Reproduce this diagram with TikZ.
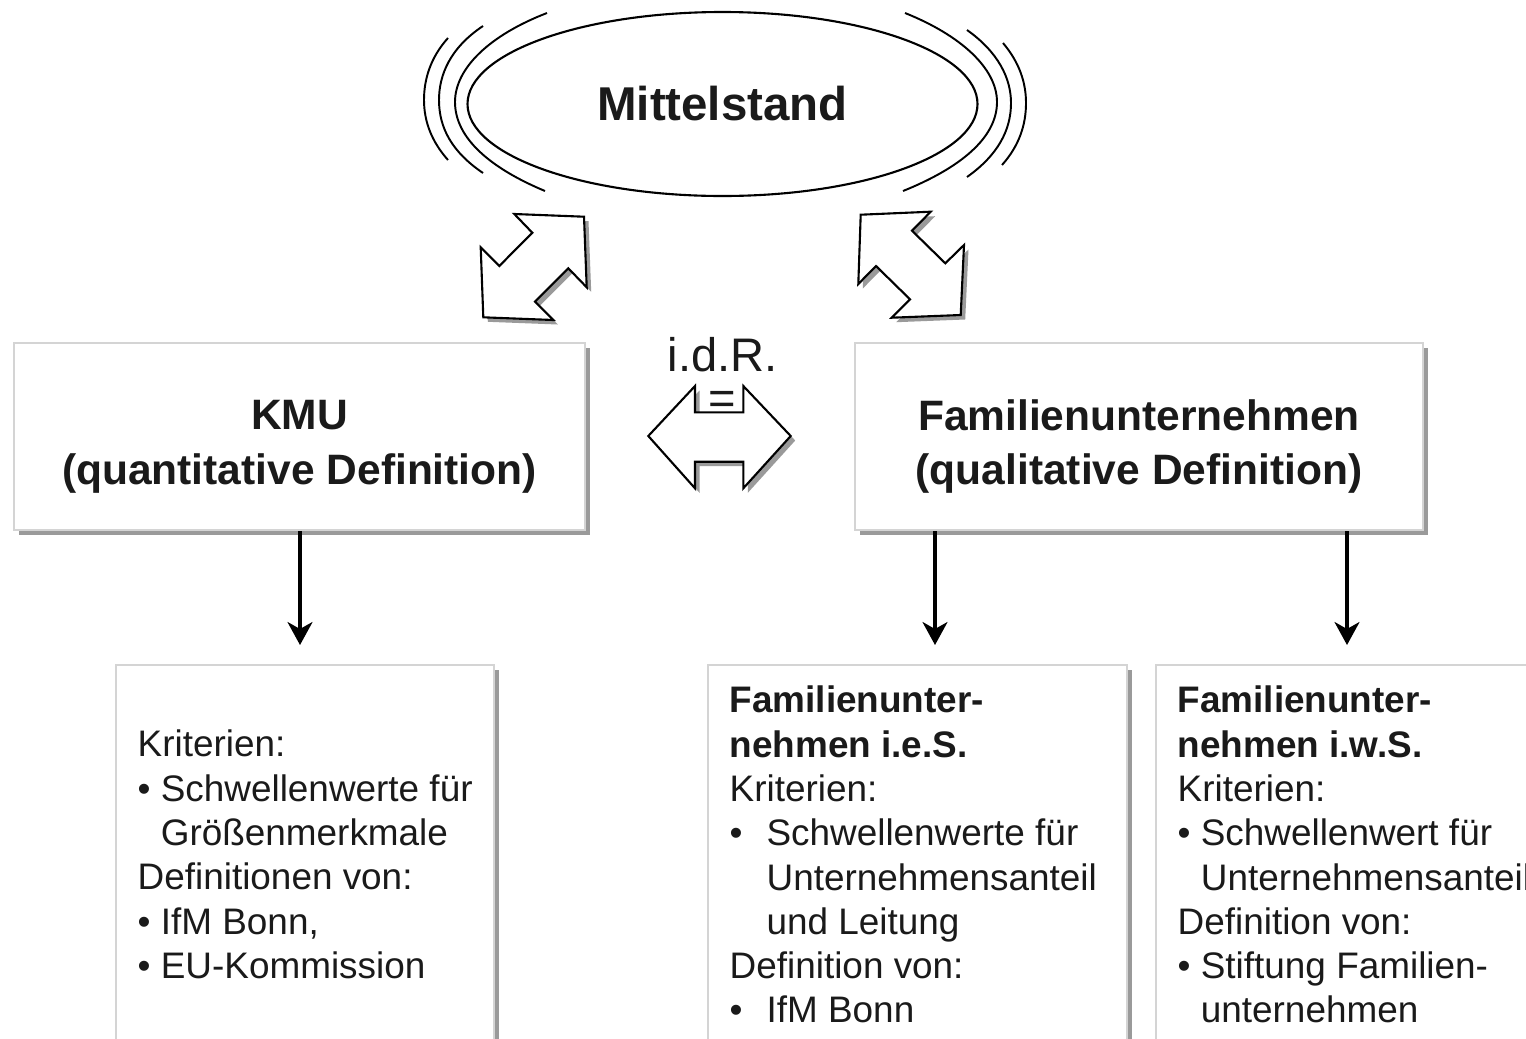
\documentclass[tikz,border=0pt]{standalone}
\usepackage{fontspec}
\setmainfont{Liberation Sans}
\usepackage{xcolor}
\usetikzlibrary{shapes.geometric, arrows.meta, positioning, calc, shadows}
\definecolor{rahmengrau}{HTML}{D4D4D4}
\definecolor{schattengrau}{HTML}{9A9A9A}
\definecolor{tinte}{HTML}{1A1A1A}

\begin{document}
\begin{tikzpicture}[x=0.1mm, y=-0.1mm,
  schatten/.style={drop shadow={shadow xshift=0.45mm, shadow yshift=-0.45mm, fill=schattengrau, opacity=1}},
  kasten/.style={draw=rahmengrau, line width=0.6pt, fill=white, schatten, inner sep=0pt},
  blockpfeil/.style={draw=black, line width=0.6pt, fill=white, line join=miter, schatten},
  welle/.style={line width=0.55pt},
  pfeil/.style={-{Stealth[length=2.3mm, width=2.5mm, inset=0.7mm]}, line width=0.9pt},
  titel/.style={font=\fontsize{12.1}{15.6}\selectfont\bfseries, align=center, text=tinte, inner sep=0pt},
  liste/.style={font=\fontsize{10.5}{12.6}\selectfont, align=left, text=tinte, inner sep=0pt, anchor=north west}
]
  \clip (0,0) rectangle (1526,1038);
  \fill[white] (0,0) rectangle (1526,1038);

  % Mittelstand oval with swirl lines
  \node[ellipse, draw, line width=0.6pt, minimum width=51mm, minimum height=18.4mm, font=\fontsize{13.5}{13.5}\selectfont\bfseries, text=tinte] (mittel) at (722.5,104) {Mittelstand};
  \draw[welle] (547,13) .. controls (490,35) and (455,68) .. (455,102) .. controls (455,138) and (490,168) .. (545,191);
  \draw[welle] (483,26) .. controls (450,48) and (439,75) .. (439,100) .. controls (439,128) and (452,152) .. (483,173);
  \draw[welle] (448,38) .. controls (430,58) and (424,80) .. (424,100) .. controls (424,122) and (432,142) .. (448,160);
  \draw[welle] (905,13) .. controls (960,35) and (997,68) .. (997,102) .. controls (997,138) and (960,168) .. (903,191);
  \draw[welle] (967,30) .. controls (998,52) and (1011,78) .. (1011,103) .. controls (1011,130) and (998,155) .. (967,177);
  \draw[welle] (1003,43) .. controls (1019,62) and (1026,82) .. (1026,103) .. controls (1026,125) and (1019,146) .. (1002,165);

  % Double arrows below the oval
  \draw[blockpfeil] (514.3,214) -- (584,216.7) -- (586.7,287.3) -- (568.3,268.3) -- (535,301.7) -- (553.3,320)
    -- (483.3,317.3) -- (480.7,247.3) -- (499.3,266) -- (532.3,232.7) -- cycle;
  \draw[blockpfeil] (860.7,214.7) -- (930.7,211.7) -- (912,230.7) -- (945.3,263.3) -- (964,245) -- (960.7,315)
    -- (891.7,317.7) -- (910,299.3) -- (876,266) -- (858.3,284) -- cycle;

  % Upper boxes
  \node[kasten, minimum width=57.1mm, minimum height=18.7mm] (kmu) at (299.5,436.5) {};
  \node[titel] (kmutext) at ($(kmu.center)+(0,10)$) {KMU\\(quantitative Definition)};
  \node[kasten, minimum width=56.8mm, minimum height=18.7mm] (fam) at (1139,436.5) {};
  \node[titel] (famtext) at ($(fam.center)+(0,10)$) {Familienunternehmen\\(qualitative Definition)};

  % i.d.R. equal arrow
  \node[font=\fontsize{13.4}{13.4}\selectfont, text=tinte, inner sep=0pt] (idr) at (722.5,355) {i.d.R.};
  \draw[blockpfeil] (648.3,436) -- (695,386) -- (695,412.3) -- (743.3,412.3) -- (743.3,386) -- (790.7,436)
    -- (743.3,488.3) -- (743.3,461.7) -- (695,461.7) -- (695,488.3) -- cycle;
  \node[font=\fontsize{13.4}{13.4}\selectfont, text=tinte, inner sep=0pt, anchor=base] (gleich) at (722.7,414) {=};

  % Lower boxes
  \node[kasten, anchor=north west, minimum width=37.8mm, minimum height=45mm] (boxA) at (115,664) {};
  \node[kasten, anchor=north west, minimum width=41.9mm, minimum height=45mm] (boxB) at (707,664) {};
  \node[kasten, anchor=north west, minimum width=44.5mm, minimum height=45mm] (boxC) at (1155,664) {};

  \node[liste] (textA) at (137,729.5) {Kriterien:\\
    \textbullet\ Schwellenwerte für\\
    \hphantom{\textbullet\ }Größenmerkmale\\
    Definitionen von:\\
    \textbullet\ IfM Bonn,\\
    \textbullet\ EU-Kommission};
  \node[liste] (textB) at (729,685.5) {\textbf{Familienunter-}\\
    \textbf{nehmen i.e.S.}\\
    Kriterien:\\
    \makebox[1em][l]{\textbullet}Schwellenwerte für\\
    \hspace*{1em}Unternehmensanteil\\
    \hspace*{1em}und Leitung\\
    Definition von:\\
    \makebox[1em][l]{\textbullet}IfM Bonn};
  \node[liste] (textC) at (1177,685.5) {\textbf{Familienunter-}\\
    \textbf{nehmen i.w.S.}\\
    Kriterien:\\
    \textbullet\ Schwellenwert für\\
    \hphantom{\textbullet\ }Unternehmensanteil\\
    Definition von:\\
    \textbullet\ Stiftung Familien-\\
    \hphantom{\textbullet\ }unternehmen};

  % Arrows down
  \coordinate (zielA) at (300,645);
  \coordinate (zielB) at (935,645);
  \coordinate (zielC) at (1347,645);
  \draw[pfeil] (kmu.south -| zielA) -- (zielA);
  \draw[pfeil] (fam.south -| zielB) -- (zielB);
  \draw[pfeil] (fam.south -| zielC) -- (zielC);
\end{tikzpicture}
\end{document}
